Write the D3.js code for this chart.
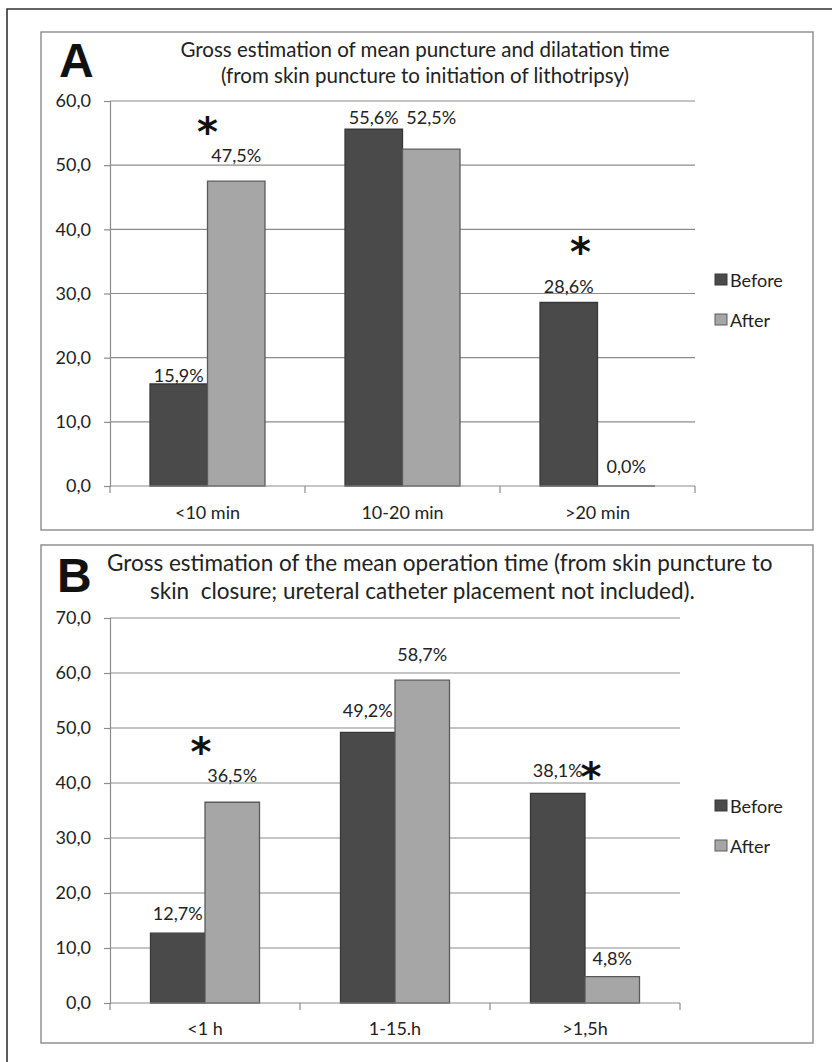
<!DOCTYPE html>
<html>
<head>
<meta charset="utf-8">
<script src="https://cdn.jsdelivr.net/npm/d3@7"></script>
<style>
  html, body { margin: 0; padding: 0; background: #fff; }
  svg { display: block; }
  text { font-family: Lato, "Open Sans", sans-serif; fill: #222; }
  .title { white-space: pre; }
</style>
</head>
<body>
<svg id="fig" width="832" height="1062"></svg>
<script>
// Panel A: puncture + dilatation time
const catsA = ["<10 min", "10-20 min", ">20 min"];
const beforeA = [15.9, 55.6, 28.6];
const afterA = [47.5, 52.5, 0.0];
const ticksA = [0, 10, 20, 30, 40, 50, 60];

// Panel B: total operation time
const catsB = ["<1 h", "1-15.h", ">1,5h"];
const beforeB = [12.7, 49.2, 38.1];
const afterB = [36.5, 58.7, 4.8];
const ticksB = [0, 10, 20, 30, 40, 50, 60, 70];

const seriesNames = ["Before", "After"];

const fmtTick = v => d3.format(".1f")(v).replace(".", ",");
const fmtPct = v => d3.format(".1f")(v).replace(".", ",") + "%";

const svg = d3.select("#fig");

// outer figure frame (open at right and bottom)
svg.append("path")
  .attr("d", "M7,1062 L7,9 L832,9")
  .attr("fill", "none").attr("stroke", "#333").attr("stroke-width", 1.6);

const panels = [
  {
    letter: "A", cats: catsA, before: beforeA, after: afterA, ticks: ticksA,
    box: [41, 32, 813, 530],
    plot: { x0: 110, x1: 695, yBase: 486, yTop: 101 },
    pad: 0.696,
    titleSize: 20.5,
    title: [
      { t: "Gross estimation of mean puncture and dilatation time", x: 425, y: 49, anchor: "middle" },
      { t: "(from skin puncture to initiation of lithotripsy)", x: 425, y: 75, anchor: "middle" }
    ],
    letterPos: [59, 77],
    lifts: { before: [9, 12, 16], after: [26, 32, 20] },
    stars: [{ cat: 0, y: 125 }, { cat: 2, y: 245, dx: -17 }],
    legendY: [280, 320],
    catLabelY: 512
  },
  {
    letter: "B", cats: catsB, before: beforeB, after: afterB, ticks: ticksB,
    box: [41, 545, 813, 1043],
    plot: { x0: 110, x1: 680, yBase: 1003, yTop: 618 },
    pad: 0.743,
    titleSize: 22.5,
    title: [
      { t: "Gross estimation of the mean operation time (from skin puncture to", x: 107, y: 562, anchor: "start" },
      { t: "skin  closure; ureteral catheter placement not included).", x: 150, y: 590, anchor: "start" }
    ],
    letterPos: [57, 592],
    lifts: { before: [20, 22, 23], after: [27, 26, 19] },
    stars: [{ cat: 0, y: 745, dx: -4 }, { cat: 2, y: 770, dx: 6 }],
    legendY: [806, 846],
    catLabelY: 1028
  }
];

const colors = { Before: "#4a4a4a", After: "#a6a6a6" };
const strokes = { Before: "#383838", After: "#5a5a5a" };

panels.forEach(p => {
  const g = svg.append("g");
  const [bx0, by0, bx1, by1] = p.box;

  // panel frame
  g.append("rect")
    .attr("x", bx0).attr("y", by0)
    .attr("width", bx1 - bx0).attr("height", by1 - by0)
    .attr("fill", "#fff").attr("stroke", "#8a8a8a").attr("stroke-width", 1.4);

  // panel letter
  g.append("text")
    .attr("x", p.letterPos[0]).attr("y", p.letterPos[1])
    .style("font-family", "'Liberation Sans', Arial, sans-serif")
    .style("font-weight", "bold").style("font-size", "48px")
    .style("fill", "#111")
    .text(p.letter);

  // title lines
  p.title.forEach(l => {
    g.append("text").attr("class", "title")
      .attr("x", l.x).attr("y", l.y)
      .attr("text-anchor", l.anchor)
      .attr("dominant-baseline", "central")
      .style("font-size", p.titleSize + "px")
      .text(l.t);
  });

  const maxV = d3.max(p.ticks);
  const y = d3.scaleLinear().domain([0, maxV]).range([p.plot.yBase, p.plot.yTop]);
  const x0 = d3.scaleBand().domain(p.cats).range([p.plot.x0, p.plot.x1]).padding(0);
  const x1 = d3.scaleBand().domain(seriesNames).range([0, x0.bandwidth()])
    .paddingInner(0).paddingOuter(p.pad);

  // gridlines
  g.append("g").selectAll("line").data(p.ticks.filter(t => t > 0)).join("line")
    .attr("x1", p.plot.x0).attr("x2", p.plot.x1)
    .attr("y1", d => y(d)).attr("y2", d => y(d))
    .attr("stroke", "#8c8c8c").attr("stroke-width", 1.2);

  // y axis
  const yAxis = d3.axisLeft(y).tickValues(p.ticks).tickFormat(fmtTick).tickSizeOuter(0).tickSize(6).tickPadding(13);
  const ya = g.append("g").attr("transform", `translate(${p.plot.x0},0)`).call(yAxis);
  ya.select(".domain").attr("stroke", "#8c8c8c").attr("stroke-width", 1.2);
  ya.selectAll(".tick line").attr("stroke", "#8c8c8c").attr("stroke-width", 1.2);
  ya.selectAll(".tick text")
    .style("font-family", "Lato, sans-serif").style("font-size", "18px").attr("fill", "#222");

  // bars (drawn as closed paths so a zero-height bar still shows its outline)
  const rows = p.cats.map((c, i) => ({ cat: c, i, Before: p.before[i], After: p.after[i] }));
  const grp = g.append("g").selectAll("g").data(rows).join("g")
    .attr("transform", d => `translate(${x0(d.cat)},0)`);
  grp.selectAll("path").data(d => seriesNames.map(s => ({ s, v: d[s] }))).join("path")
    .attr("d", d => {
      const xl = x1(d.s), xr = xl + x1.bandwidth(), yt = y(d.v), yb = y(0);
      return `M${xl},${yb}V${yt}H${xr}V${yb}Z`;
    })
    .attr("fill", d => colors[d.s]).attr("stroke", d => strokes[d.s]).attr("stroke-width", 1.3);

  // x axis baseline and category ticks
  const xa = g.append("g");
  xa.append("line").attr("x1", p.plot.x0).attr("x2", p.plot.x1)
    .attr("y1", y(0)).attr("y2", y(0)).attr("stroke", "#8c8c8c").attr("stroke-width", 1.2);
  const edges = p.cats.map(c => x0(c)).concat([p.plot.x1]);
  xa.selectAll("line.tk").data(edges).join("line").attr("class", "tk")
    .attr("x1", d => d).attr("x2", d => d)
    .attr("y1", y(0)).attr("y2", y(0) + 7)
    .attr("stroke", "#8c8c8c").attr("stroke-width", 1.2);
  xa.selectAll("text").data(p.cats).join("text")
    .attr("x", d => x0(d) + x0.bandwidth() / 2).attr("y", p.catLabelY)
    .attr("text-anchor", "middle").attr("dominant-baseline", "central")
    .style("font-size", "18px").text(d => d);

  // value labels
  const labels = [];
  p.cats.forEach((c, i) => {
    seriesNames.forEach(s => {
      const v = s === "Before" ? p.before[i] : p.after[i];
      const lift = s === "Before" ? p.lifts.before[i] : p.lifts.after[i];
      labels.push({ x: x0(c) + x1(s) + x1.bandwidth() / 2, y: y(v) - lift, v });
    });
  });
  g.append("g").selectAll("text").data(labels).join("text")
    .attr("x", d => d.x).attr("y", d => d.y)
    .attr("text-anchor", "middle").attr("dominant-baseline", "central")
    .style("font-size", "18px").text(d => fmtPct(d.v));

  // significance markers
  g.append("g").selectAll("text").data(p.stars).join("text")
    .attr("x", d => x0(p.cats[d.cat]) + x0.bandwidth() / 2 + (d.dx || 0))
    .attr("y", d => d.y + 21)
    .attr("text-anchor", "middle")
    .style("font-family", "'DejaVu Sans', sans-serif")
    .style("font-weight", "bold").style("font-size", "40px").style("fill", "#111")
    .text("*");

  // legend
  const lg = g.append("g");
  seriesNames.forEach((s, k) => {
    const ly = p.legendY[k];
    lg.append("rect").attr("x", 715).attr("y", ly - 6).attr("width", 12).attr("height", 11)
      .attr("fill", colors[s]).attr("stroke", strokes[s]).attr("stroke-width", 1);
    lg.append("text").attr("x", 730).attr("y", ly)
      .attr("dominant-baseline", "central").style("font-size", "18px").text(s);
  });
});
</script>
</body>
</html>
